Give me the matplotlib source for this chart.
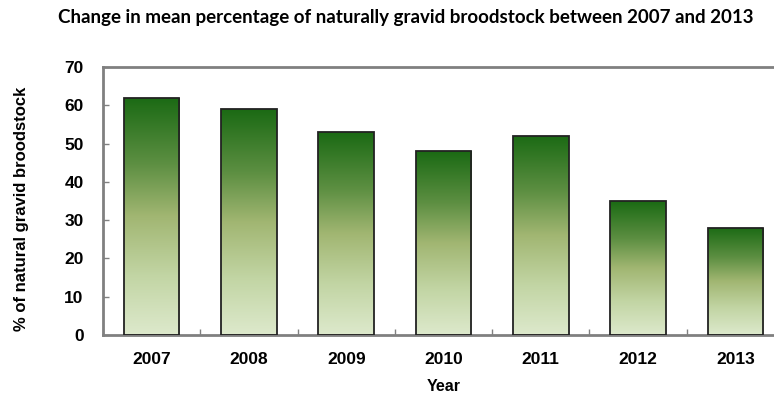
import numpy as np
import matplotlib
matplotlib.use("Agg")
import matplotlib.pyplot as plt
from matplotlib.colors import LinearSegmentedColormap
from matplotlib.ticker import FixedLocator

years = ["2007", "2008", "2009", "2010", "2011", "2012", "2013"]
pct_gravid = [62, 59, 53, 48, 52, 35, 28]

plt.rcParams["font.family"] = ["Liberation Sans", "DejaVu Sans"]

fig = plt.figure(figsize=(7.74, 3.95), dpi=100)
# right edge of the frame runs slightly past the picture, as in the source
ax = fig.add_axes([103 / 774, 1 - 335 / 395, 681 / 774, 268 / 395])

grad = LinearSegmentedColormap.from_list(
    "grad", [(0.0, "#dde9cc"), (0.25, "#c2d5a4"), (0.5, "#a1b672"),
             (0.72, "#5d8f42"), (1.0, "#1b6a14")])

x = np.arange(len(years))
bars = ax.bar(x, pct_gravid, width=0.57, color="none", edgecolor="#222222",
              linewidth=1.3, zorder=3)
g = np.linspace(0, 1, 256).reshape(-1, 1)
for b in bars:
    x0, w, h = b.get_x(), b.get_width(), b.get_height()
    im = ax.imshow(g, cmap=grad, origin="lower", aspect="auto",
                   extent=[x0, x0 + w, 0, h], zorder=2)
    im.set_clip_path(b)

ax.set_xlim(-0.5, len(years) - 0.5)
ax.set_ylim(0, 70)
ax.set_yticks(range(0, 71, 10))
ax.set_xticks(x)
ax.set_xticklabels(years, fontsize=12.5, fontweight="bold")
ax.xaxis.set_minor_locator(FixedLocator(np.arange(-0.5, len(years), 1)))
ax.tick_params(axis="x", which="major", length=0, pad=12)
ax.tick_params(axis="x", which="minor", direction="in", length=4,
               color="#808080", width=1)
ax.tick_params(axis="y", direction="in", length=4, color="#808080", width=1,
               labelsize=12.5, pad=14)
for lab in ax.get_yticklabels():
    lab.set_fontweight("bold")
for s in ax.spines.values():
    s.set_color("#808080")
    s.set_linewidth(2)

ax.set_xlabel("Year", fontsize=11.5, fontweight="bold", labelpad=9)
ax.set_ylabel("% of natural gravid broodstock", fontsize=12, fontweight="bold")
ax.yaxis.set_label_coords(-74 / 681, 0.47)
fig.text(406 / 774, 1 - 17 / 395,
         "Change in mean percentage of naturally gravid broodstock between 2007 and 2013",
         ha="center", va="center", fontsize=13.5, fontweight="bold",
         family=["Lato", "DejaVu Sans"])

plt.savefig("out.png", dpi=100)
